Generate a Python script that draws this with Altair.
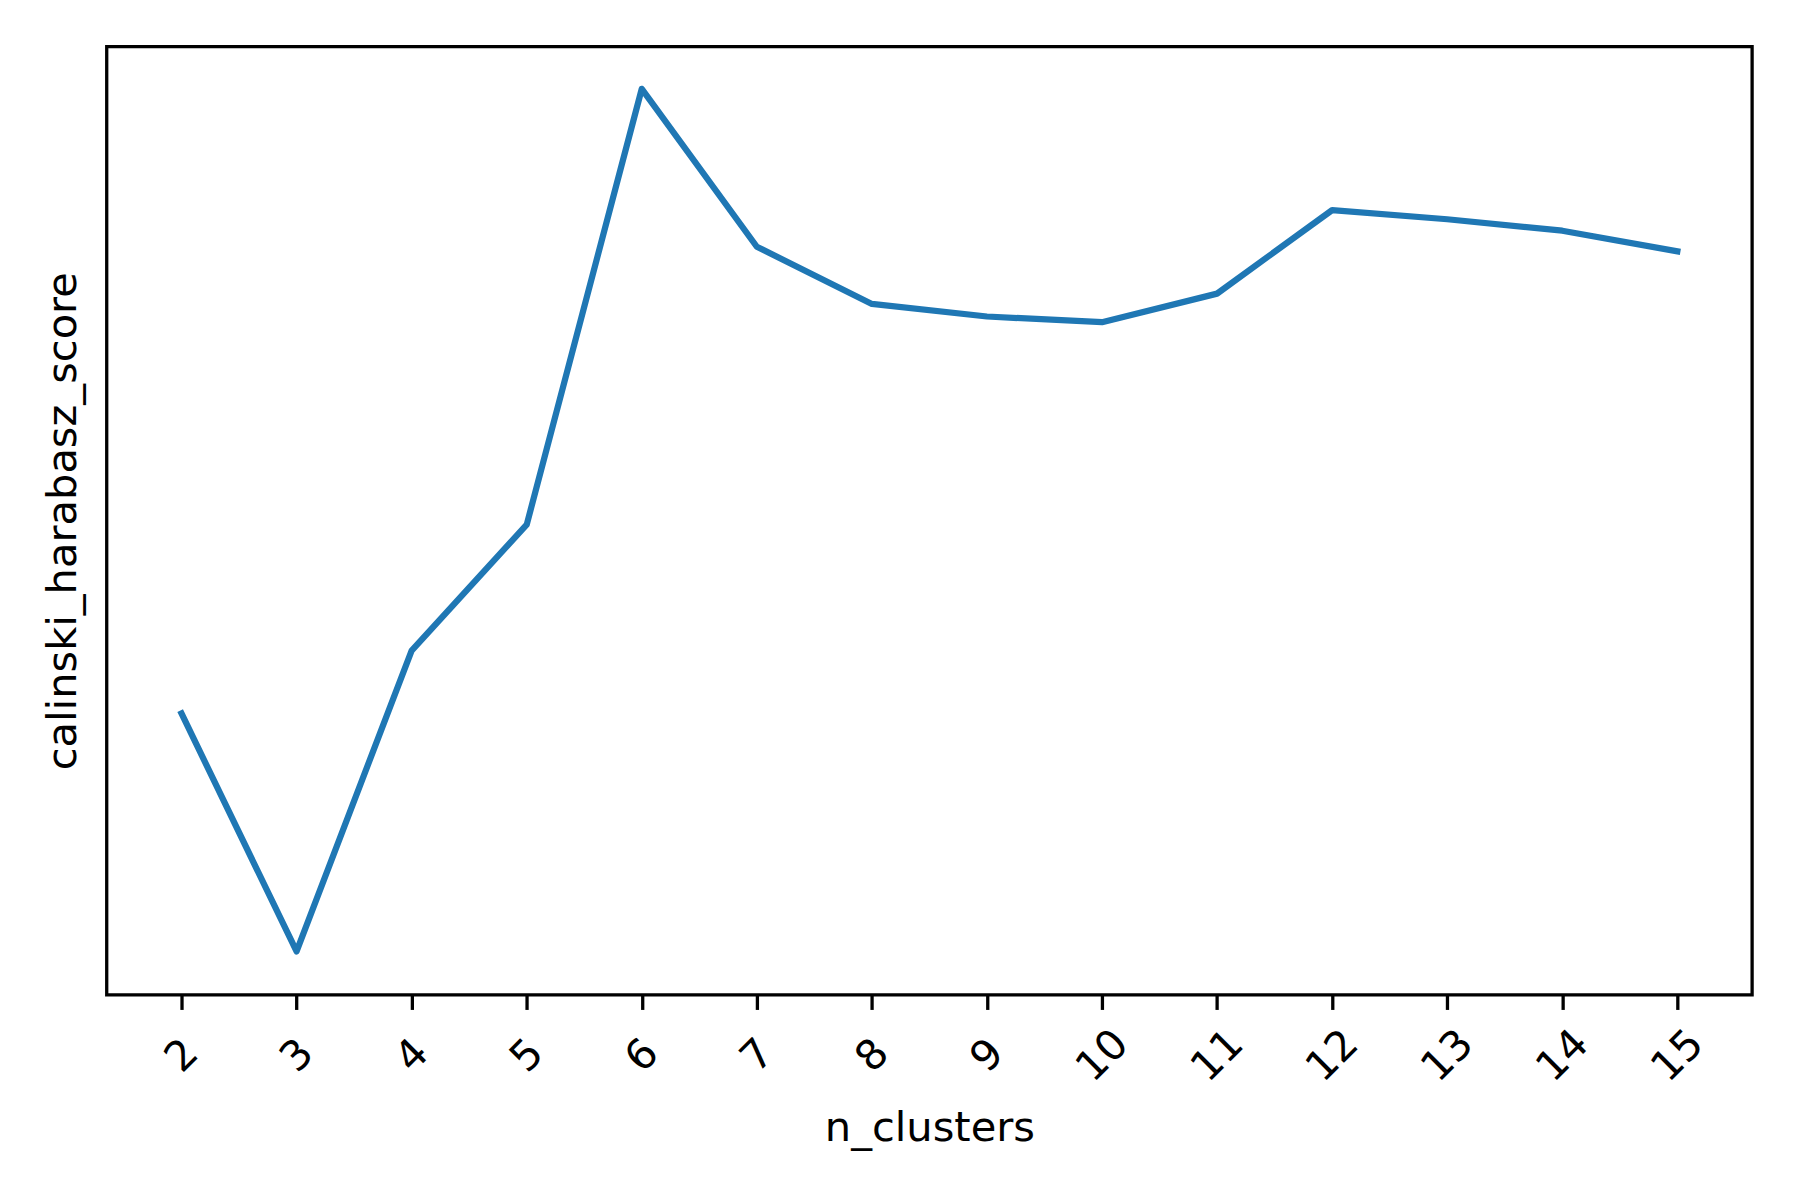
import altair as alt
import pandas as pd

n_clusters = [2, 3, 4, 5, 6, 7, 8, 9, 10, 11, 12, 13, 14, 15]
scores = [246, 38, 301, 411, 792, 654, 604, 593, 588, 613, 686, 678, 668, 650]

df = pd.DataFrame({"n_clusters": n_clusters, "score": scores})

FONT = "DejaVu Sans"

chart = alt.Chart(df).mark_line(
    color="#1f77b4", strokeWidth=6.25, strokeCap="square", strokeJoin="round"
).encode(
    x=alt.X(
        "n_clusters:Q",
        scale=alt.Scale(domain=[1.35, 15.65], nice=False, zero=False),
        axis=alt.Axis(
            values=n_clusters,
            title="n_clusters",
            labelAngle=315,
            labelAlign="center",
            labelBaseline="middle",
            labelPadding=46,
            labelFontSize=41.7,
            labelFont=FONT,
            labelColor="black",
            titleFont=FONT,
            titleFontSize=41.7,
            titleFontWeight="normal",
            titleColor="black",
            titlePadding=18,
            tickSize=14.6,
            tickWidth=3.3,
            tickColor="black",
            domain=False,
            grid=False,
            labelFlush=False,
            labelOverlap=False,
        ),
    ),
    y=alt.Y(
        "score:Q",
        scale=alt.Scale(domain=[0, 829], nice=False, zero=False),
        axis=alt.Axis(
            title="calinski_harabasz_score",
            labels=False,
            ticks=False,
            domain=False,
            grid=False,
            titleFont=FONT,
            titleFontSize=41.7,
            titleFontWeight="normal",
            titleColor="black",
            titlePadding=22,
        ),
    ),
).properties(
    width=1650,
    height=951,
    autosize=alt.AutoSizeParams(type="none"),
    padding={"left": 99, "top": 37, "right": 40, "bottom": 180},
).configure(
    background="white",
    view=alt.ViewConfig(stroke="black", strokeWidth=3.3),
)

chart.save("out.html", embed_options={"renderer": "svg", "actions": False})
